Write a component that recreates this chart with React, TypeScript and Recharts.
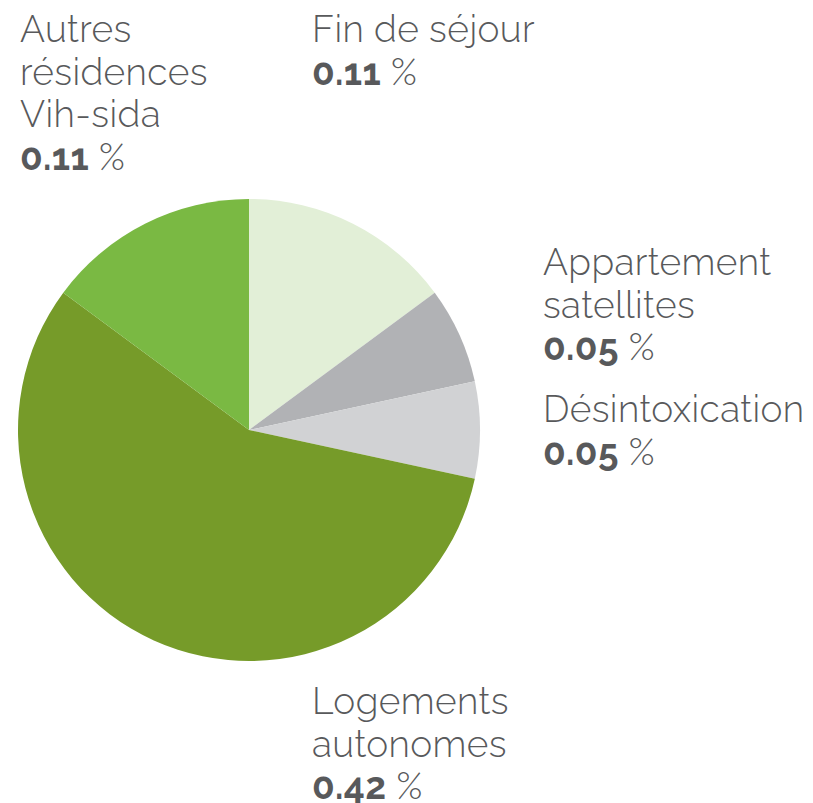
import React from 'react';
import { PieChart, Pie, Cell } from 'recharts';

const categories = ['Fin de séjour', 'Appartement satellites', 'Désintoxication', 'Logements autonomes', 'Autres résidences Vih-sida'];
const values = [0.11, 0.05, 0.05, 0.42, 0.11];
const colors = ['#e2efd7', '#b1b2b5', '#d1d2d4', '#769b29', '#7ab943'];

// label lines per category (name lines, then value line)
const labelLines = [['Fin de séjour'], ['Appartement', 'satellites'], ['Désintoxication'], ['Logements', 'autonomes'], ['Autres', 'résidences', 'Vih-sida']];
// label anchor: left x and first baseline
const labelPos = [
  { x: 312, y: 42 },
  { x: 543, y: 275 },
  { x: 543, y: 422 },
  { x: 312, y: 714 },
  { x: 20, y: 42 },
];

const data = categories.map((name, i) => ({ name, value: values[i] }));

const FONT = "Raleway, Lato, 'Open Sans', sans-serif";
const LINE = 42.5;

const App: React.FC = () => {
  return (
    <div style={{ position: 'absolute', left: 0, top: 0, width: 813, height: 803, background: '#fff' }}>
      <PieChart width={813} height={803} margin={{ top: 0, right: 0, bottom: 0, left: 0 }}>
        <Pie
          data={data}
          dataKey="value"
          nameKey="name"
          cx={249}
          cy={430}
          outerRadius={231}
          startAngle={90}
          endAngle={-270}
          stroke="none"
          isAnimationActive={false}
        >
          {data.map((d, i) => (
            <Cell key={d.name} fill={colors[i]} />
          ))}
        </Pie>
      </PieChart>
      <svg width={813} height={803} style={{ position: 'absolute', left: 0, top: 0, pointerEvents: 'none' }}>
        {labelLines.map((lines, i) => (
          <g key={i} fontFamily={FONT} fontSize={37} letterSpacing={0.4} fill="#58595b">
            {lines.map((l, j) => (
              <text key={j} x={labelPos[i].x} y={labelPos[i].y + j * LINE} fontWeight={300}>
                {l}
              </text>
            ))}
            <text x={labelPos[i].x} y={labelPos[i].y + lines.length * LINE}>
              <tspan fontWeight={700}>{values[i].toFixed(2)}</tspan>
              <tspan fontWeight={300}> %</tspan>
            </text>
          </g>
        ))}
      </svg>
    </div>
  );
};

export default App;
